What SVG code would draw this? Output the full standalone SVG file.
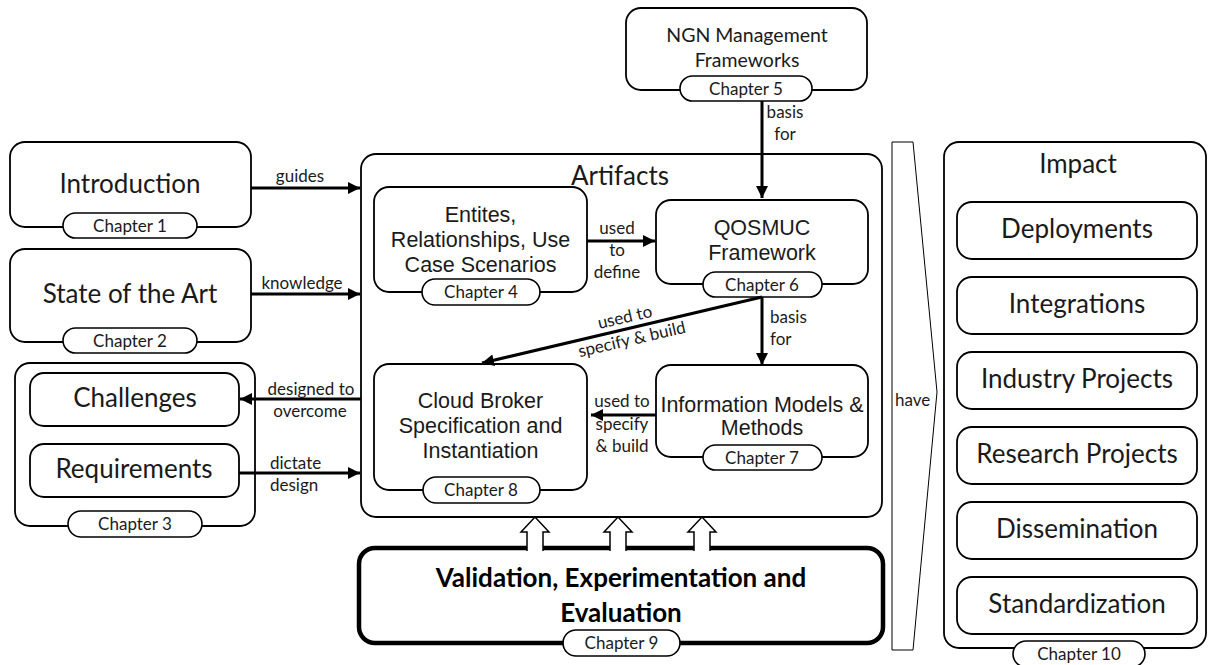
<svg xmlns="http://www.w3.org/2000/svg" width="1208" height="665" viewBox="0 0 1208 665">
<defs>
<style>
.box{fill:#fff;stroke:#000;stroke-width:1.8}
.pill{fill:#fff;stroke:#000;stroke-width:1.6}
.big{font-family:Lato,"Open Sans",sans-serif;font-size:26px;fill:#1a1a1a;text-anchor:middle}
.ngn{font-family:Lato,"Open Sans",sans-serif;font-size:19.5px;fill:#1a1a1a;text-anchor:middle}
.ch{font-family:Lato,"Open Sans",sans-serif;font-size:17px;fill:#1a1a1a;text-anchor:middle}
.lbl{font-family:Lato,"Open Sans",sans-serif;font-size:17px;fill:#1a1a1a;text-anchor:middle}
.lbll{font-family:Lato,"Open Sans",sans-serif;font-size:17px;fill:#1a1a1a;text-anchor:start}
.ar{font-family:"Liberation Sans",Arial,sans-serif;font-size:21.5px;fill:#1a1a1a;text-anchor:middle}
.bold{font-family:Lato,"Open Sans",sans-serif;font-size:26px;font-weight:bold;fill:#000;text-anchor:middle}
.con{stroke:#000;stroke-width:3;fill:none}
.hollow{fill:#fff;stroke:#000;stroke-width:1.5;stroke-linejoin:miter}
</style>
<marker id="ah" viewBox="0 0 12 12" refX="12" refY="6" markerWidth="12" markerHeight="12" markerUnits="userSpaceOnUse" orient="auto">
<path d="M0,0 L12,6 L0,12 Z" fill="#000"/>
</marker>
</defs>

<g id="ngn">
<rect class="box" x="626" y="8" width="241" height="82" rx="15"/>
<text class="ngn" x="747" y="42">NGN Management</text>
<text class="ngn" x="747" y="67">Frameworks</text>
<rect class="pill" x="680" y="76" width="132" height="25" rx="12.5"/>
<text class="ch" x="746" y="95">Chapter 5</text>
</g>

<g id="introduction">
<rect class="box" x="10" y="142" width="241" height="85" rx="15"/>
<text class="big" x="130" y="193">Introduction</text>
<rect class="pill" x="63" y="213" width="134" height="25" rx="12.5"/>
<text class="ch" x="130" y="232">Chapter 1</text>
</g>

<g id="stateoftheart">
<rect class="box" x="10" y="249" width="241" height="93" rx="15"/>
<text class="big" x="130" y="303">State of the Art</text>
<rect class="pill" x="63" y="328" width="134" height="25" rx="12.5"/>
<text class="ch" x="130" y="347">Chapter 2</text>
</g>

<g id="chapter3">
<rect class="box" x="15" y="363" width="240" height="163" rx="15"/>
<rect class="pill" x="68" y="511" width="134" height="26" rx="13"/>
<text class="ch" x="135" y="530">Chapter 3</text>
</g>
<g id="challenges">
<rect class="box" x="30" y="373" width="209" height="53" rx="14"/>
<text class="big" x="135" y="407">Challenges</text>
</g>
<g id="requirements">
<rect class="box" x="30" y="444" width="209" height="53" rx="14"/>
<text class="big" x="134" y="478">Requirements</text>
</g>

<g id="artifacts">
<rect class="box" x="361" y="154" width="521" height="363" rx="15"/>
<text class="big" x="620" y="185">Artifacts</text>
</g>

<g id="entities">
<rect class="box" x="374" y="187" width="213" height="105" rx="15"/>
<text class="ar" x="480.5" y="222">Entites,</text>
<text class="ar" x="480.5" y="247">Relationships, Use</text>
<text class="ar" x="480.5" y="272">Case Scenarios</text>
<rect class="pill" x="422" y="279" width="118" height="26" rx="13"/>
<text class="ch" x="481" y="298">Chapter 4</text>
</g>

<g id="qosmuc">
<rect class="box" x="656" y="200" width="212" height="84" rx="15"/>
<text class="ar" x="762" y="235">QOSMUC</text>
<text class="ar" x="762" y="260">Framework</text>
<rect class="pill" x="703" y="272" width="119" height="25" rx="12.5"/>
<text class="ch" x="762" y="291">Chapter 6</text>
</g>

<g id="cloudbroker">
<rect class="box" x="374" y="364" width="213" height="126" rx="15"/>
<text class="ar" x="480.5" y="408">Cloud Broker</text>
<text class="ar" x="480.5" y="433">Specification and</text>
<text class="ar" x="480.5" y="458">Instantiation</text>
<rect class="pill" x="423" y="477" width="117" height="26" rx="13"/>
<text class="ch" x="481" y="496">Chapter 8</text>
</g>

<g id="infomodels">
<rect class="box" x="656" y="365" width="212" height="92" rx="15"/>
<text class="ar" x="762" y="412">Information Models &amp;</text>
<text class="ar" x="762" y="435">Methods</text>
<rect class="pill" x="703" y="445" width="119" height="25" rx="12.5"/>
<text class="ch" x="762" y="464">Chapter 7</text>
</g>

<g id="validation">
<rect x="359" y="548" width="524" height="95" rx="16" fill="#fff" stroke="#000" stroke-width="4.5"/>
<text class="bold" x="621" y="587">Validation, Experimentation and</text>
<text class="bold" x="621" y="622">Evaluation</text>
<rect class="pill" x="563" y="630" width="117" height="26" rx="13"/>
<text class="ch" x="621.5" y="649">Chapter 9</text>
</g>

<g id="have">
<path d="M892,142 L913,142 L937,392 L913,650 L892,650 Z" fill="#fff" stroke="#000" stroke-width="1"/>
<text class="lbll" x="895" y="406">have</text>
</g>

<g id="impact">
<rect class="box" x="944" y="142" width="262" height="506" rx="15"/>
<text class="big" x="1078" y="173">Impact</text>
<rect class="pill" x="1013" y="641" width="132" height="26" rx="13"/>
<text class="ch" x="1079" y="660">Chapter 10</text>
</g>
<g id="deployments"><rect class="box" x="957" y="202" width="240" height="57" rx="15"/><text class="big" x="1077" y="238">Deployments</text></g>
<g id="integrations"><rect class="box" x="957" y="277" width="240" height="57" rx="15"/><text class="big" x="1077" y="313">Integrations</text></g>
<g id="industry"><rect class="box" x="957" y="352" width="240" height="57" rx="15"/><text class="big" x="1077" y="388">Industry Projects</text></g>
<g id="research"><rect class="box" x="957" y="427" width="240" height="57" rx="15"/><text class="big" x="1077" y="463">Research Projects</text></g>
<g id="dissemination"><rect class="box" x="957" y="502" width="240" height="57" rx="15"/><text class="big" x="1077" y="538">Dissemination</text></g>
<g id="standardization"><rect class="box" x="957" y="577" width="240" height="57" rx="15"/><text class="big" x="1077" y="613">Standardization</text></g>

<g id="connectors">
<line class="con" x1="762" y1="101" x2="762" y2="198" marker-end="url(#ah)"/>
<text class="lbl" x="785" y="118">basis</text>
<text class="lbl" x="785" y="140">for</text>

<line class="con" x1="251" y1="188" x2="360" y2="188" marker-end="url(#ah)"/>
<text class="lbl" x="300" y="182">guides</text>

<line class="con" x1="251" y1="294" x2="360" y2="294" marker-end="url(#ah)"/>
<text class="lbl" x="302" y="289">knowledge</text>

<line class="con" x1="361" y1="399" x2="240" y2="399" marker-end="url(#ah)"/>
<text class="lbl" x="311" y="395">designed to</text>
<text class="lbl" x="310" y="417">overcome</text>

<line class="con" x1="239" y1="473" x2="360" y2="473" marker-end="url(#ah)"/>
<text class="lbll" x="270" y="469">dictate</text>
<text class="lbll" x="270" y="491">design</text>

<line class="con" x1="587" y1="241" x2="655" y2="241" marker-end="url(#ah)"/>
<text class="lbl" x="617" y="234">used</text>
<text class="lbl" x="617" y="256">to</text>
<text class="lbl" x="617" y="278">define</text>

<line class="con" x1="762" y1="297" x2="762" y2="365" marker-end="url(#ah)"/>
<text class="lbll" x="770" y="323">basis</text>
<text class="lbll" x="770" y="345">for</text>

<line class="con" x1="762" y1="297" x2="482" y2="363" marker-end="url(#ah)"/>
<text class="lbl" x="625" y="323" transform="rotate(-13 625 318)">used to</text>
<text class="lbl" x="632" y="345" transform="rotate(-13 632 340)">specify &amp; build</text>

<line class="con" x1="656" y1="415" x2="591" y2="415" marker-end="url(#ah)"/>
<text class="lbl" x="622" y="407">used to</text>
<text class="lbl" x="622" y="430">specify</text>
<text class="lbl" x="622" y="452">&amp; build</text>

<path class="hollow" d="M527,551 L527,532 L521,532 L535,517 L549,532 L543,532 L543,551"/>
<path class="hollow" d="M610,551 L610,532 L604,532 L618,517 L632,532 L626,532 L626,551"/>
<path class="hollow" d="M694,551 L694,532 L688,532 L702,517 L716,532 L710,532 L710,551"/>
</g>
</svg>
